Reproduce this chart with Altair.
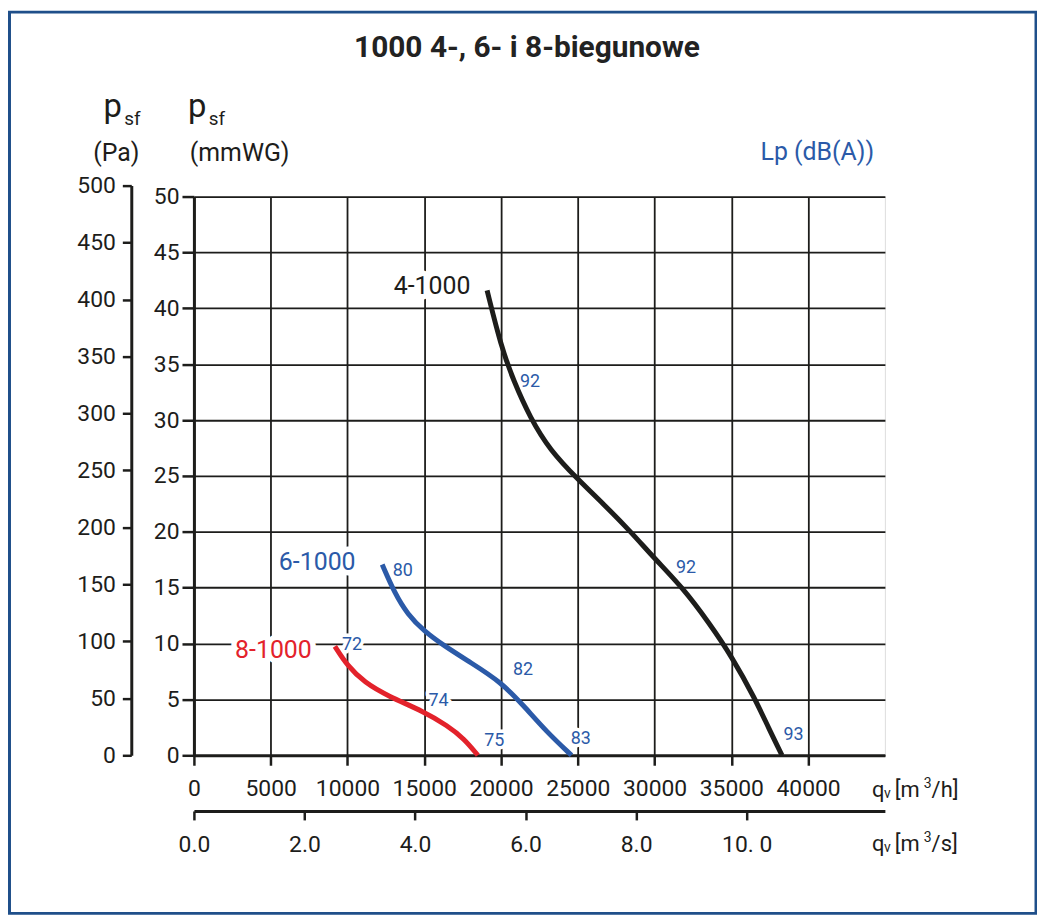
import altair as alt
import pandas as pd

FONT = "Roboto"
BLUE = "#2b5aa8"
RED = "#e3222b"
BLACK = "#1d1d1b"
FRAME = "#1f4f8a"

# ---- data ----
series_names = ["4-1000", "6-1000", "8-1000"]
series_colors = [BLACK, BLUE, RED]

q4 = [19094, 20000, 20820, 21900, 23190, 25000, 26660, 28390, 30000, 31830, 33550, 35000, 36570, 37440, 38300]
p4 = [41.6, 36.6, 33.5, 30.2, 27.3, 24.7, 22.5, 20.1, 17.6, 15.0, 11.85, 8.9, 5.0, 2.4, 0.0]
q6 = [12263, 13060, 13920, 15000, 16290, 18020, 20000, 21470, 22970, 24590]
p6 = [17.08, 14.55, 12.6, 11.1, 9.8, 8.3, 6.55, 4.45, 2.1, 0.0]
q8 = [9180, 10000, 11120, 12630, 15000, 16510, 17590, 18490]
p8 = [9.75, 8.0, 6.5, 5.3, 3.9, 2.65, 1.5, 0.0]

name_q = [15510, 8030, 5180]
name_p = [42.0, 17.3, 9.4]

lp_text = ["92", "92", "93", "80", "82", "83", "72", "74", "75"]
lp_q = [21890, 32050, 39050, 13600, 21430, 25190, 10300, 15930, 19560]
lp_p = [33.4, 16.8, 1.8, 16.5, 7.6, 1.5, 9.9, 4.9, 1.3]

x_ticks = list(range(0, 40001, 5000))
y_ticks = list(range(0, 51, 5))
pa_ticks = list(range(0, 501, 50))
qs_ticks = [0, 2, 4, 6, 8, 10]

X_DOMAIN = [0, 45000]
Y_DOMAIN = [0, 50]
QS_DOMAIN = [0, 12.5]
PA_TOP = 500
PA_PER_MMWG = 9.80665

# ---- tables ----
rows = []
for name, qs, ps in zip(series_names, [q4, q6, q8], [p4, p6, p8]):
    for i, (q, p) in enumerate(zip(qs, ps)):
        rows.append({"series": name, "q": q, "p": p, "i": i})
curves_df = pd.DataFrame(rows)
names_df = pd.DataFrame({"series": series_names, "q": name_q, "p": name_p})
lp_df = pd.DataFrame({"t": lp_text, "q": lp_q, "p": lp_p})
one = pd.DataFrame({"k": [0]})

W, H = 695, 562
PX0, PY0 = 195, 195  # page position of plot origin

common_axis = dict(
    labelFont=FONT, labelFontSize=23, labelColor=BLACK,
    domainColor=BLACK, domainWidth=3, tickColor=BLACK, tickWidth=2.5,
    title=None, labelFlush=False, labelOverlap=False,
)

xaxis = alt.Axis(values=x_ticks, grid=True, gridColor=BLACK, gridWidth=1.8,
                 tickSize=10, labelPadding=12, format="d", **common_axis)
yaxis = alt.Axis(values=y_ticks, grid=True, gridColor=BLACK, gridWidth=1.8,
                 tickSize=12, labelPadding=3, format="d", **common_axis)

color_scale = alt.Scale(domain=series_names, range=series_colors)


def X():
    return alt.X("q:Q", scale=alt.Scale(domain=X_DOMAIN, nice=False), axis=xaxis)


def Y():
    return alt.Y("p:Q", scale=alt.Scale(domain=Y_DOMAIN, nice=False), axis=yaxis)


def fixed(text, px, py, size, color=BLACK, weight="normal", align="left", baseline="alphabetic"):
    return alt.Chart(one).mark_text(
        text=text, font=FONT, fontSize=size, fontWeight=weight, color=color,
        align=align, baseline=baseline,
    ).encode(x=alt.value(px - PX0), y=alt.value(py - PY0))


border = alt.Chart(one).mark_rect(fillOpacity=0, stroke=FRAME, strokeWidth=3).encode(
    x=alt.value(-185.5), x2=alt.value(847), y=alt.value(-185.5), y2=alt.value(721)
)

curves = alt.Chart(curves_df).mark_line(strokeWidth=5, interpolate="basis").encode(
    x=X(), y=Y(),
    color=alt.Color("series:N", scale=color_scale, legend=None),
    order="i:Q",
)

names_halo = alt.Chart(names_df).mark_text(
    font=FONT, fontSize=25, fill="white", stroke="white", strokeWidth=11,
    strokeJoin="round", align="center", baseline="middle",
).encode(x=X(), y=Y(), text="series:N")
names = alt.Chart(names_df).mark_text(
    font=FONT, fontSize=25, align="center", baseline="middle",
).encode(x=X(), y=Y(), text="series:N",
         color=alt.Color("series:N", scale=color_scale, legend=None))

lp_halo = alt.Chart(lp_df).mark_text(
    font=FONT, fontSize=18, fill="white", stroke="white", strokeWidth=7,
    strokeJoin="round", align="center", baseline="middle",
).encode(x=X(), y=Y(), text="t:N")
lp = alt.Chart(lp_df).mark_text(
    font=FONT, fontSize=18, color=BLUE, align="center", baseline="middle",
).encode(x=X(), y=Y(), text="t:N")

texts = [
    fixed("1000 4-, 6- i 8-biegunowe", 530, 46, 30, color="#222222", weight="bold",
          align="center", baseline="middle"),
    fixed("p", 104, 115, 33),
    fixed("sf", 125, 123, 19),
    fixed("p", 189, 115, 33),
    fixed("sf", 210, 123, 19),
    fixed("(Pa)", 117, 151, 25, align="center", baseline="middle"),
    fixed("(mmWG)", 241, 151, 25, align="center", baseline="middle"),
    fixed("Lp (dB(A))", 822, 150, 25, color=BLUE, align="center", baseline="middle"),
    fixed("q", 877, 799, 22),
    fixed("v", 889, 800, 14),
    fixed("[m", 900, 799, 22),
    fixed("3", 929, 790, 14),
    fixed("/h]", 937, 799, 22),
    fixed("q", 877, 853, 22),
    fixed("v", 889, 854, 14),
    fixed("[m", 900, 853, 22),
    fixed("3", 929, 844, 14),
    fixed("/s]", 937, 853, 22),
]

inner = alt.layer(border, names_halo, lp_halo, curves, names, lp, *texts)

# secondary axes: m3/s below and Pa on the left
pa_top_px = H - (PA_TOP / PA_PER_MMWG) * (H / Y_DOMAIN[1])
dummy = alt.Chart(pd.DataFrame({"qs": [0], "pa": [0]})).mark_point(opacity=0).encode(
    x=alt.X("qs:Q", scale=alt.Scale(domain=QS_DOMAIN, nice=False),
            axis=alt.Axis(orient="bottom", offset=56, values=qs_ticks, grid=False,
                          tickSize=9, labelPadding=14,
                          labelExpr="datum.value == 10 ? '10. 0' : format(datum.value, '.1f')",
                          **common_axis)),
    y=alt.Y("pa:Q", scale=alt.Scale(domain=[0, PA_TOP], range=[H, pa_top_px], nice=False),
            axis=alt.Axis(orient="left", offset=63, values=pa_ticks, grid=False,
                          tickSize=9, labelPadding=7, format="d", **common_axis)),
)

chart = alt.layer(inner, dummy).resolve_scale(x="independent", y="independent").properties(
    width=W, height=H,
    autosize=alt.AutoSizeParams(type="none"),
    padding={"left": 187, "top": 187, "right": 153, "bottom": 160},
).configure_view(stroke=BLACK, strokeWidth=3).configure(background="white")

chart.save("out.html", embed_options={"renderer": "svg", "actions": False})
